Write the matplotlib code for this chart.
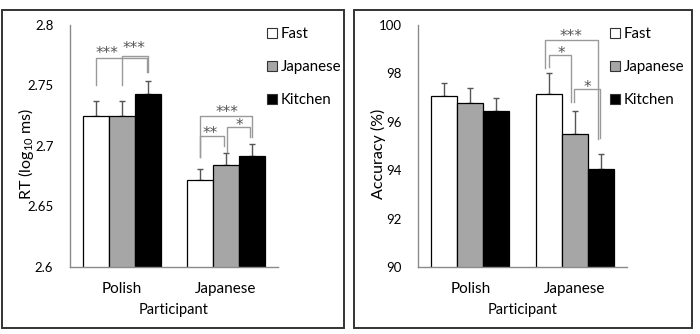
import matplotlib
matplotlib.use("Agg")
import matplotlib.pyplot as plt
from matplotlib.patches import Patch, Rectangle

plt.rcParams['font.family'] = ['Lato', 'DejaVu Sans']
plt.rcParams['mathtext.fontset'] = 'custom'
plt.rcParams['mathtext.rm'] = 'Lato'

# Participant groups and stimulus conditions
participants = ['Polish', 'Japanese']
conditions = ['Fast', 'Japanese', 'Kitchen']
bar_colors = ['white', '#a6a6a6', 'black']

# Reaction time (log10 ms), mean and SE per group x condition
rt_mean = [[2.725, 2.725, 2.743],
           [2.672, 2.684, 2.692]]
rt_se = [[0.012, 0.012, 0.011],
         [0.009, 0.010, 0.010]]

# Accuracy (%), mean and SE
acc_mean = [[97.05, 96.78, 96.45],
            [97.15, 95.50, 94.03]]
acc_se = [[0.55, 0.63, 0.52],
          [0.85, 0.93, 0.62]]

# significance brackets: (x_left, y_left, x_right, y_right, y_top, label, label_x, label_y)
rt_sig = [(-0.25, 2.7504, 0.24, 2.7612, 2.7727, '***', -0.14, 2.7799),
          (0.0, 2.7504, 0.25, 2.7612, 2.7746, '***', 0.115, 2.7837),
          (0.75, 2.6912, 1.25, 2.7077, 2.7248, '***', 1.01, 2.7308),
          (0.75, 2.6912, 0.98, 2.7000, 2.7083, '**', 0.85, 2.7140),
          (1.01, 2.6953, 1.23, 2.7077, 2.7155, '*', 1.13, 2.7201)]
acc_sig = [(0.72, 98.22, 1.225, 95.28, 99.38, '***', 0.967, 99.71),
           (0.757, 98.27, 0.967, 96.83, 98.76, '*', 0.87, 99.01),
           (0.995, 96.80, 1.243, 95.31, 97.34, '*', 1.12, 97.61)]

W = 0.25
fig = plt.figure(figsize=(7, 3.34), dpi=100)

# panel frames
for x0, w in [(0.0033, 0.4886), (0.506, 0.483)]:
    fig.patches.append(Rectangle((x0, 0.017), w, 0.953, transform=fig.transFigure,
                                 fill=False, edgecolor='#333333', linewidth=1.4))


def draw_panel(rect, means, ses, sig, ylim, yticks, ytl, ylabel, label_x, leg_x):
    ax = fig.add_axes(rect)
    for j in range(len(conditions)):
        xs = [i + (j - 1) * W for i in range(len(participants))]
        ys = [means[i][j] for i in range(len(participants))]
        es = [ses[i][j] for i in range(len(participants))]
        ax.bar(xs, ys, W, bottom=0, color=bar_colors[j], edgecolor='black',
               linewidth=0.9, zorder=2)
        ax.errorbar(xs, ys, yerr=[[0] * len(es), es], fmt='none', ecolor='#555555',
                    elinewidth=1, capsize=2.5, capthick=1, zorder=1)
    for xl, yl, xr, yr, yt, lab, lx, ly in sig:
        ax.plot([xl, xl, xr, xr], [yl, yt, yt, yr], color='#9a9a9a', lw=1, zorder=3)
        # star glyphs sit high above the baseline, so shift the baseline down
        ax.annotate(lab, (lx, ly), xytext=(0, -6.3), textcoords='offset points',
                    ha='center', va='baseline', fontsize=11, color='#555555',
                    family='DejaVu Sans')
    ax.set_xlim(-0.5, 1.5)
    ax.set_ylim(*ylim)
    ax.set_yticks(yticks)
    ax.set_yticklabels(ytl)
    ax.set_xticks(range(len(participants)))
    ax.set_xticklabels(participants)
    ax.tick_params(axis='y', length=0, pad=12, labelsize=9.5)
    ax.tick_params(axis='x', length=0, pad=11, labelsize=11)
    for s in ['top', 'right']:
        ax.spines[s].set_visible(False)
    for s in ['left', 'bottom']:
        ax.spines[s].set_color('#8a8a8a')
        ax.spines[s].set_linewidth(1)
    ax.set_ylabel(ylabel, fontsize=11.5)
    ax.yaxis.set_label_coords(label_x, 0.467)
    ax.set_xlabel('Participant', fontsize=10.5, labelpad=5)
    handles = [Patch(facecolor=c, edgecolor='#333333', linewidth=0.8) for c in bar_colors]
    fig.legend(handles, conditions, loc='upper left', bbox_to_anchor=(leg_x, 0.918),
               bbox_transform=fig.transFigure, frameon=False, fontsize=10.8,
               handlelength=0.66, handleheight=0.66, handletextpad=0.25,
               labelspacing=1.25, borderpad=0, borderaxespad=0)
    return ax


draw_panel([0.1, 0.2006, 0.297, 0.7246], rt_mean, rt_se, rt_sig,
           (2.6, 2.8), [2.6, 2.65, 2.7, 2.75, 2.8],
           ['2.6', '2.65', '2.7', '2.75', '2.8'], r'RT (log$_{\mathregular{10}}$ ms)',
           -0.163, 0.381)
draw_panel([0.5976, 0.2006, 0.2977, 0.7246], acc_mean, acc_se, acc_sig,
           (90, 100), [90, 92, 94, 96, 98, 100],
           ['90', '92', '94', '96', '98', '100'], 'Accuracy (%)', -0.155, 0.871)

fig.savefig('out.png', dpi=100)
